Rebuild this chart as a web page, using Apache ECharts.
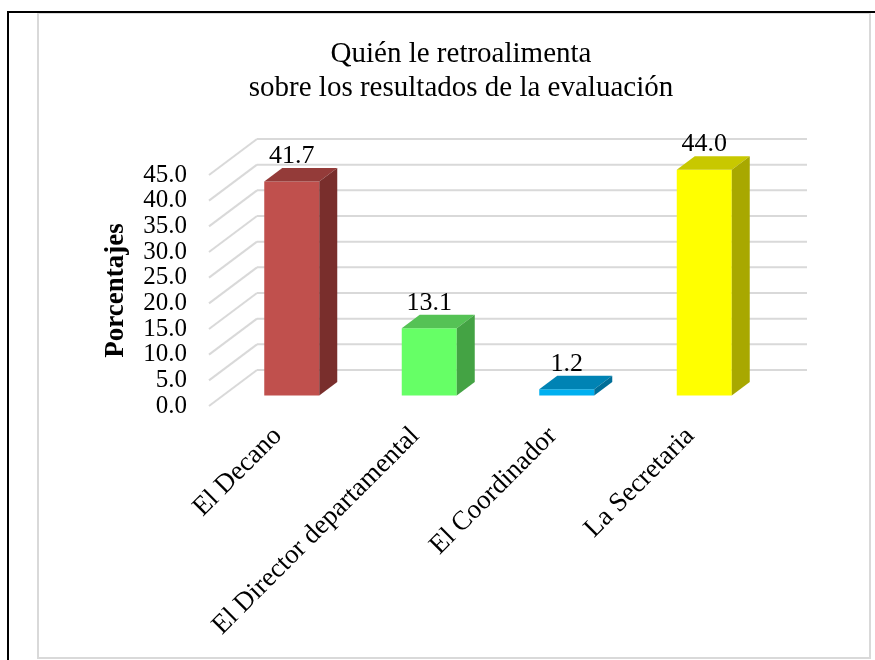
<!DOCTYPE html>
<html>
<head>
<meta charset="utf-8">
<script src="https://cdn.jsdelivr.net/npm/echarts@6/dist/echarts.min.js"></script>
<style>
  html, body { margin: 0; padding: 0; background: #fff; }
  #chart { width: 875px; height: 660px; }
</style>
</head>
<body>
<div id="chart"></div>
<script>
// Who gives feedback about the evaluation results (percentages)
const categories = ['El Decano', 'El Director departamental', 'El Coordinador', 'La Secretaria'];
const percentages = [41.7, 13.1, 1.2, 44.0];
const yTicks = [0, 5, 10, 15, 20, 25, 30, 35, 40, 45];

// Face colours for each column: front, top, side
const frontColors = ['#c0504d', '#66ff66', '#00b0f0', '#ffff00'];
const topColors   = ['#943b39', '#55c255', '#0083b4', '#c8c800'];
const sideColors  = ['#792e2c', '#44a344', '#006e98', '#a8a800'];

const FONT = '"Liberation Serif", "Times New Roman", serif';

// Perspective offsets (pixels): wall depth, column front plane, column depth
const WALL_DX = 48, WALL_DY = -36;
const COL_DX = 14, COL_DY = -10.5;
const DEPTH_DX = 18, DEPTH_DY = -13.5;

const chart = echarts.init(document.getElementById('chart'), null, { renderer: 'canvas' });

function renderWall(params, api) {
  const cs = params.coordSys;
  const y = api.coord([0, api.value(0)])[1];
  const style = { stroke: '#d9d9d9', lineWidth: 2 };
  return {
    type: 'group',
    children: [
      { type: 'line', shape: { x1: cs.x, y1: y, x2: cs.x + WALL_DX, y2: y + WALL_DY }, style },
      { type: 'line', shape: { x1: cs.x + WALL_DX, y1: y + WALL_DY, x2: cs.x + cs.width + WALL_DX, y2: y + WALL_DY }, style }
    ]
  };
}

function renderColumn(params, api) {
  const i = api.value(0);
  const v = api.value(1);
  const top = api.coord([i, v]);
  const base = api.coord([i, 0]);
  const halfW = api.size([1, 0])[0] * 0.2;
  const cx = top[0] + COL_DX;
  const L = cx - halfW, R = cx + halfW;
  const yT = top[1] + COL_DY, yB = base[1] + COL_DY;
  return {
    type: 'group',
    children: [
      { type: 'rect', shape: { x: L, y: yT, width: R - L, height: yB - yT },
        style: { fill: frontColors[i] } },
      { type: 'polygon', shape: { points: [[L, yT], [R, yT], [R + DEPTH_DX, yT + DEPTH_DY], [L + DEPTH_DX, yT + DEPTH_DY]] },
        style: { fill: topColors[i] } },
      { type: 'polygon', shape: { points: [[R, yT], [R + DEPTH_DX, yT + DEPTH_DY], [R + DEPTH_DX, yB + DEPTH_DY], [R, yB]] },
        style: { fill: sideColors[i] } },
      { type: 'text', x: cx, y: yT + DEPTH_DY - 12,
        style: { text: v.toFixed(1), fill: '#000', font: '26px ' + FONT, align: 'center', verticalAlign: 'middle' } }
    ]
  };
}

chart.setOption({
  animation: false,
  backgroundColor: '#fff',
  title: {
    text: 'Quién le retroalimenta\nsobre los resultados de la evaluación',
    left: 456,
    top: 32,
    textAlign: 'center',
    textStyle: { fontFamily: FONT, fontSize: 29, fontWeight: 'normal', color: '#000', lineHeight: 34 }
  },
  graphic: [
    { type: 'rect', shape: { x: 38, y: 13, width: 832, height: 645 }, style: { fill: 'none', stroke: '#d9d9d9', lineWidth: 2 }, z: -1 },
    { type: 'line', shape: { x1: 8, y1: 12, x2: 875, y2: 12 }, style: { stroke: '#000', lineWidth: 2 } },
    { type: 'line', shape: { x1: 8, y1: 11, x2: 8, y2: 660 }, style: { stroke: '#000', lineWidth: 2 } }
  ],
  grid: { left: 209, top: 175, width: 550, height: 231, containLabel: false },
  xAxis: {
    type: 'category',
    data: categories,
    axisLine: { show: false },
    axisTick: { show: false },
    axisLabel: { rotate: 45, margin: 26, interval: 0, fontFamily: FONT, fontSize: 27, color: '#000' }
  },
  yAxis: {
    type: 'value',
    min: 0, max: 45, interval: 5,
    name: 'Porcentajes',
    nameLocation: 'middle',
    nameRotate: 90,
    nameGap: 79,
    nameTextStyle: { fontFamily: FONT, fontSize: 27, fontWeight: 'bold', color: '#000' },
    axisLine: { show: false },
    axisTick: { show: false },
    splitLine: { show: false },
    axisLabel: {
      margin: 22, fontFamily: FONT, fontSize: 25, color: '#000',
      showMinLabel: true, showMaxLabel: true, hideOverlap: false,
      formatter: v => v.toFixed(1)
    }
  },
  series: [
    { type: 'custom', renderItem: renderWall, data: yTicks.map(t => [t]), encode: { y: 0 }, z: 1, silent: true },
    { type: 'custom', renderItem: renderColumn, data: percentages.map((v, i) => [i, v]), encode: { x: 0, y: 1 }, z: 2 }
  ]
});
</script>
</body>
</html>
